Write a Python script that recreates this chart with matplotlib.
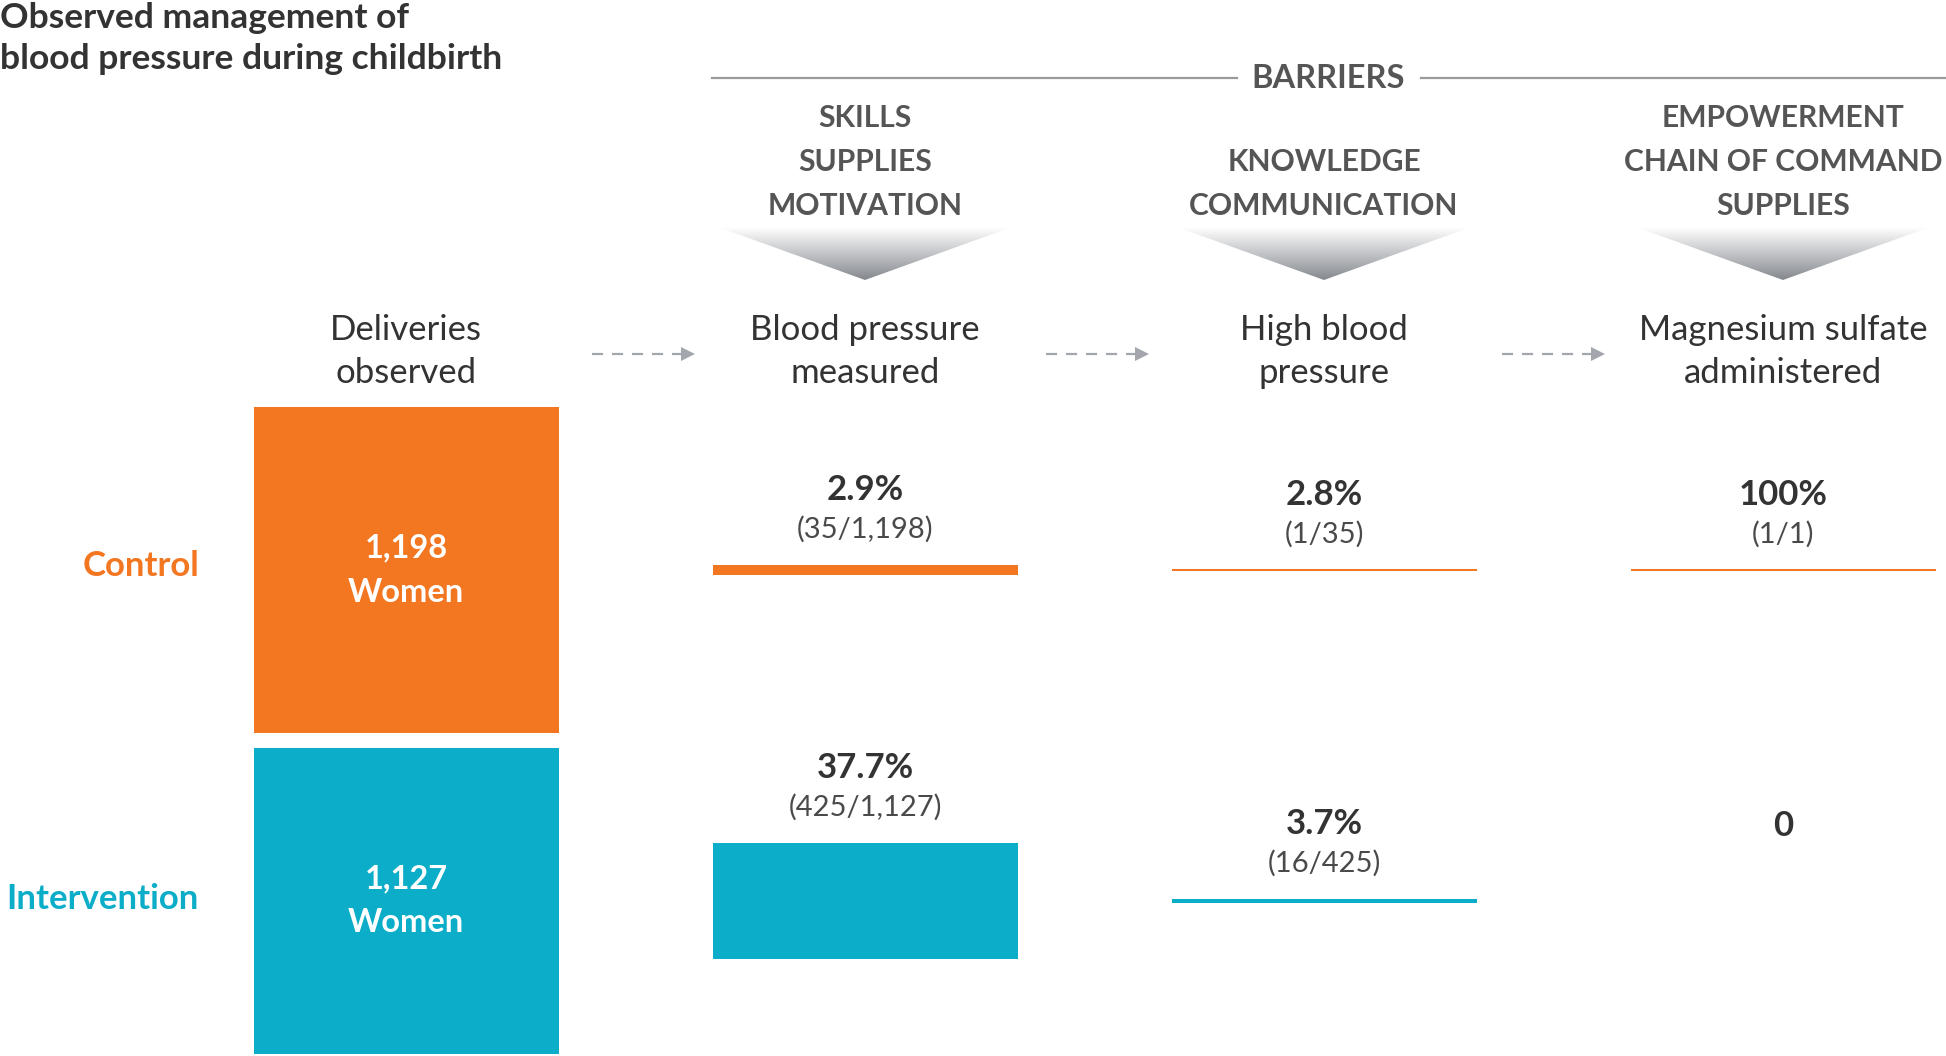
import matplotlib.pyplot as plt
import numpy as np
from matplotlib.patches import Polygon
from matplotlib.colors import LinearSegmentedColormap

# data
stages = ["Deliveries\nobserved", "Blood pressure\nmeasured", "High blood\npressure", "Magnesium sulfate\nadministered"]
barriers = ["SKILLS\nSUPPLIES\nMOTIVATION", "KNOWLEDGE\nCOMMUNICATION", "EMPOWERMENT\nCHAIN OF COMMAND\nSUPPLIES"]
groups = ["Control", "Intervention"]
control_n = [1198, 35, 1, 1]
intervention_n = [1127, 425, 16, 0]
control_pct = ["2.9%", "2.8%", "100%"]
intervention_pct = ["37.7%", "3.7%", "0"]
control_frac = ["(35/1,198)", "(1/35)", "(1/1)"]
intervention_frac = ["(425/1,127)", "(16/425)", ""]

ORANGE = "#F37621"
TEAL = "#0BADC8"
DARK = "#333333"
GREY = "#555555"

plt.rcParams['font.family'] = ['Lato', 'DejaVu Sans']

fig = plt.figure(figsize=(19.46, 10.56), dpi=100)
ax = fig.add_axes([0, 0, 1, 1])
ax.set_xlim(0, 1946)
ax.set_ylim(1056, 0)
ax.axis("off")

col_x = [406, 865, 1324, 1783]
row_y = [570, 901]
bar_w = 305
px_per_woman = 0.2713  # box height in px per woman (areas are proportional)

# title
ax.text(0, 18, "Observed management of", fontsize=25.5, weight="bold", color=DARK, va="center", ha="left")
ax.text(0, 59, "blood pressure during childbirth", fontsize=25.5, weight="bold", color=DARK, va="center", ha="left")

# barriers header line
ax.plot([712, 1237], [78, 78], color="#9a9a9a", lw=1.6)
ax.plot([1421, 1946], [78, 78], color="#9a9a9a", lw=1.6)
ax.text(1328, 78, "BARRIERS", fontsize=23.5, weight="bold", color=GREY, ha="center", va="center")

# barrier columns + chevrons
cmap = LinearSegmentedColormap.from_list("chev", ["#ffffff", "#85898f"])
grad = np.linspace(0, 1, 100).reshape(-1, 1)
for i, b in enumerate(barriers):
    cx = col_x[i + 1]
    lines = b.split("\n")
    for j, ln in enumerate(reversed(lines)):
        ax.text(cx, 206 - j * 44, ln, fontsize=21.6, weight="bold", color=GREY, ha="center", va="center")
    tri = Polygon([[cx - 147, 227], [cx + 147, 227], [cx, 280]], closed=True, facecolor="none", edgecolor="none")
    ax.add_patch(tri)
    im = ax.imshow(grad, cmap=cmap, extent=[cx - 147, cx + 147, 280, 227], aspect="auto", zorder=1)
    im.set_clip_path(tri)

# stage labels
for i, s in enumerate(stages):
    l1, l2 = s.split("\n")
    ax.text(col_x[i], 330, l1, fontsize=25, color=DARK, ha="center", va="center")
    ax.text(col_x[i], 373, l2, fontsize=25, color=DARK, ha="center", va="center")

# dashed arrows between stages
for x0 in [592, 1046, 1502]:
    ax.plot([x0, x0 + 92], [354, 354], color="#a3a7ad", lw=1.6, ls=(0, (5, 4)))
    ax.plot([x0 + 96], [354], marker=">", color="#a3a7ad", markersize=10, markeredgewidth=0)

# row labels
ax.text(199, 566, groups[0], fontsize=25, weight="bold", color=ORANGE, ha="right", va="center")
ax.text(199, 899, groups[1], fontsize=25, weight="bold", color=TEAL, ha="right", va="center")

# bars
for counts, yc, color, pcts, fracs in [
    (control_n, row_y[0], ORANGE, control_pct, control_frac),
    (intervention_n, row_y[1], TEAL, intervention_pct, intervention_frac),
]:
    h = np.array(counts) * px_per_woman
    h_draw = np.where(np.array(counts) > 0, np.maximum(h, 2.0), 0)
    ax.bar(col_x, h_draw, width=bar_w, bottom=yc - h_draw / 2, color=color, edgecolor="none", zorder=2)
    ax.text(col_x[0], yc - 22, "{:,}".format(counts[0]), fontsize=23.5, weight="bold", color="white", ha="center", va="center")
    ax.text(col_x[0], yc + 22, "Women", fontsize=23.5, weight="bold", color="white", ha="center", va="center")
    for i in range(3):
        top = yc - h[i + 1] / 2
        ax.text(col_x[i + 1], top - 75, pcts[i], fontsize=25, weight="bold", color=DARK, ha="center", va="center")
        if fracs[i]:
            ax.text(col_x[i + 1], top - 36, fracs[i], fontsize=21, weight="normal", color="#4a4a4a", ha="center", va="center")

fig.savefig("out.png", dpi=100, facecolor="white")
